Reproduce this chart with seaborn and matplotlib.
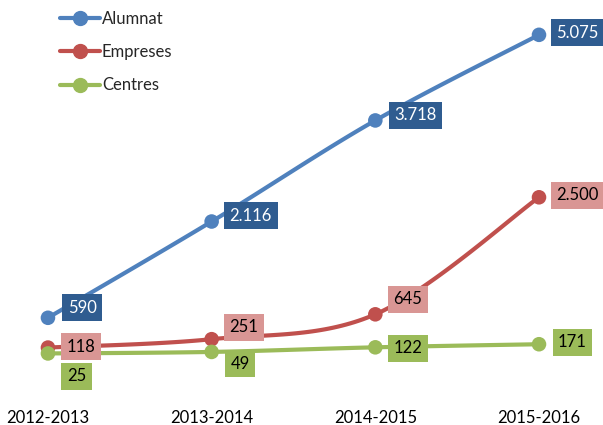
import matplotlib
matplotlib.use("Agg")
import matplotlib.pyplot as plt
from matplotlib.lines import Line2D
import numpy as np
import seaborn as sns

cursos = ['2012-2013', '2013-2014', '2014-2015', '2015-2016']
alumnat = [590, 2116, 3718, 5075]
empreses = [118, 251, 645, 2500]
centres = [25, 49, 122, 171]

series = ['Alumnat', 'Empreses', 'Centres']
valors = [alumnat, empreses, centres]
colors_linia = ['#4F81BD', '#C0504D', '#9BBB59']
colors_caixa = ['#2F5C90', '#D99694', '#9BBB59']
colors_text = ['white', 'black', 'black']

# label offsets in pixels (dx to box left, dy to box center)
offsets = [
    [(15, 10), (13, 6), (14, 5), (12, 2)],
    [(14, 1), (13, 12), (13, 15), (12, 2)],
    [(14, -23), (14, -12), (13, -1), (14, 2)],
]


def smooth(x, y, n=40):
    # Bezier curve through the points, like Excel's smoothed lines
    x = np.asarray(x, float)
    y = np.asarray(y, float)
    px = np.concatenate([[x[0]], x, [x[-1]]])
    py = np.concatenate([[y[0]], y, [y[-1]]])
    xs, ys = [], []
    t = np.linspace(0, 1, n)
    for i in range(1, len(px) - 2):
        p0, p1, p2, p3 = (np.array([px[j], py[j]]) for j in range(i - 1, i + 3))
        c1 = p1 + (p2 - p0) / 6
        c2 = p2 - (p3 - p1) / 6
        pts = ((1 - t) ** 3)[:, None] * p1 + (3 * (1 - t) ** 2 * t)[:, None] * c1 \
            + (3 * (1 - t) * t ** 2)[:, None] * c2 + (t ** 3)[:, None] * p2
        xs.extend(pts[:, 0])
        ys.extend(pts[:, 1])
    return np.array(xs), np.array(ys)


sns.set_style("white")
plt.rcParams['font.family'] = ['Lato', 'DejaVu Sans']

fig = plt.figure(figsize=(6.03, 4.25), dpi=100)
ax = fig.add_axes([0, 25 / 425, 1, 400 / 425])

xpos = np.arange(len(cursos))
for nom, v, cl, cb, ct, offs in zip(series, valors, colors_linia, colors_caixa, colors_text, offsets):
    sx, sy = smooth(xpos, v)
    ax.plot(sx, sy, color=cl, lw=3, solid_capstyle='round', zorder=2)
    sns.scatterplot(x=xpos, y=v, color=cl, s=110, edgecolor='none', ax=ax, zorder=3)
    for xi, yi, (dx, dy) in zip(xpos, v, offs):
        txt = f"{yi:,}".replace(",", ".")
        ax.annotate(txt, (xi, yi), xytext=(dx + 5, dy), textcoords='offset pixels',
                    ha='left', va='center', fontsize=12, color=ct, zorder=4,
                    bbox=dict(boxstyle='square,pad=0.33', fc=cb, ec='none'))

ax.set_xlim(-0.293, 3.391)
ax.set_ylim(-713, 5627)
ax.set_xticks(xpos)
ax.set_xticklabels(cursos, fontsize=12, color='black')
ax.set_yticks([])
ax.tick_params(axis='x', length=0, pad=7)
for s in ax.spines.values():
    s.set_visible(False)

handles = [Line2D([0], [0], color=c, lw=3, marker='o', markersize=10) for c in colors_linia]
fig.legend(handles, series, loc='upper left', bbox_to_anchor=(0.075, 1.01), frameon=False,
           fontsize=12, labelspacing=1.04, handlelength=2.4, handletextpad=0.1)

fig.savefig('out.png', dpi=100)
